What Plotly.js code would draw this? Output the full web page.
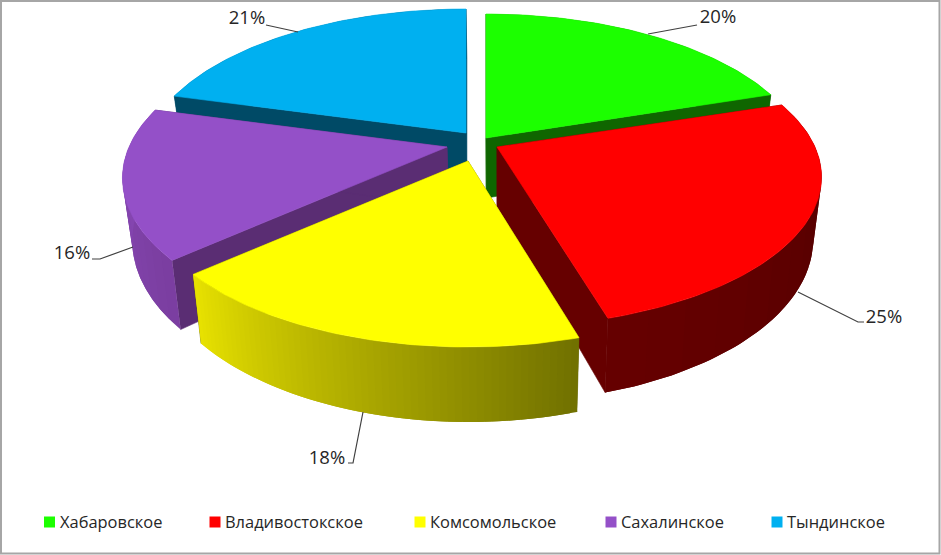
<!DOCTYPE html>
<html>
<head>
<meta charset="utf-8">
<script src="https://cdn.plot.ly/plotly-3.0.1.min.js"></script>
<style>html,body{margin:0;padding:0;background:#fff}#c{width:941px;height:555px}</style>
</head>
<body>
<div id="c"></div>
<script>
// ---- data ----
const categories = ['Хабаровское','Владивостокское','Комсомольское','Сахалинское','Тындинское'];
const values = [20, 25.45, 18.05, 15.7, 20.8];

// ---- styles / layout ----
const topColors = ['#1cff00','#ff0000','#ffff00','#9450c8','#00b0f0'];
const wallColors = ['#0f6600','#660000','#666600','#5a2d73','#004a66'];
const outerFrom = [[15,102,0],[102,0,0],[232,226,0],[138,74,186],[0,74,102]];
const outerTo   = [[15,102,0],[80,0,0],[112,112,0],[122,62,160],[0,74,102]];
const outerStrips = [1,14,60,16,1];
const apexX = [486,497,468,447,466];
const apexY = [138,147,161,147,133];
const ryScale = [1,0.97,1,1,1];
const drawOrder = [4,0,3,1,2];
const RX = 318, RY = 148.8, P = 0.2, DEPTH = 60, VANISH_X = 500, SHRINK = 0.026;
const labelX = [718,884,327,72,247];
const labelY = [18,318,459,254,19];
const leadX = [[648,695,697],[798,858,864],[363,353,348],[133,100,92],[298,268,266]];
const leadY = [[34,25,25],[292,322,322],[412,463,463],[247,259,259],[32,25,25]];
const legendMarkX = [49.5,215,420,611,777];
const legendTextX = [60,225,430,621,787];
const LEGEND_Y = 522;
const LEGEND_TEXT_Y = 523.5;

// ---- projection ----
function project(i, deg, r, bottom) {
  const a = deg * Math.PI / 180;
  const u = Math.sin(a) * r, v = -Math.cos(a) * r;
  const w = 1 / (1 - P * v);
  let px = apexX[i] + RX * u * w;
  const py = apexY[i] + (RY * ryScale[i] * v + (bottom ? DEPTH : 0)) * w;
  if (bottom) px += (VANISH_X - px) * SHRINK;
  return [px, py];
}
function poly(pts, color, lineWidth) {
  return {
    type:'scatter', mode:'lines', x:pts.map(p=>p[0]).concat(pts[0][0]), y:pts.map(p=>p[1]).concat(pts[0][1]),
    fill:'toself', fillcolor:color, line:{color:color, width:lineWidth}, hoverinfo:'skip', showlegend:false
  };
}
function arc(i, a0, a1, bottom) {
  const n = Math.max(2, Math.ceil(Math.abs(a1 - a0)));
  const out = [];
  for (let k = 0; k <= n; k++) out.push(project(i, a0 + (a1 - a0) * k / n, 1, bottom));
  return out;
}

const total = values.reduce((s, v) => s + v, 0);
const starts = [];
values.reduce((acc, v, i) => { starts[i] = acc; return acc + v / total * 360; }, 0);

const traces = [];
drawOrder.forEach(i => {
  const a0 = starts[i], a1 = a0 + values[i] / total * 360;
  const aT = project(i, 0, 0, false), aB = project(i, 0, 0, true);
  // radial walls
  [a0, a1].forEach(a => {
    traces.push(poly([aT, project(i, a, 1, false), project(i, a, 1, true), aB], wallColors[i], 0.6));
  });
  // outer wall: overlapping strips painted one over the next, so no seams show
  const strips = outerStrips[i];
  for (let s = 0; s < strips; s++) {
    const b0 = a0 + (a1 - a0) * s / strips;
    const b1 = Math.min(a1, a0 + (a1 - a0) * (s + 2) / strips);
    const t = strips === 1 ? 0 : 1 - (s + 0.5) / strips;
    const c = outerFrom[i].map((f, k) => Math.round(f + (outerTo[i][k] - f) * t));
    traces.push(poly(arc(i, b0, b1, false).concat(arc(i, b1, b0, true)), `rgb(${c.join(',')})`, 0));
  }
  // top face
  traces.push(poly([aT].concat(arc(i, a0, a1, false)), topColors[i], 0.6));
});

// leader lines and percentage labels
values.forEach((v, i) => {
  traces.push({type:'scatter', mode:'lines', x:leadX[i], y:leadY[i], line:{color:'#404040', width:1.2}, hoverinfo:'skip', showlegend:false});
});
traces.push({type:'scatter', mode:'text', x:labelX, y:labelY, text:values.map(v => Math.round(v / total * 100) + '%'),
  textposition:'middle center', textfont:{family:'"Open Sans", sans-serif', size:18.5, color:'#262626'}, hoverinfo:'skip', showlegend:false});

// legend row
traces.push({type:'scatter', mode:'markers', x:legendMarkX, y:categories.map(() => LEGEND_Y),
  marker:{symbol:'square', size:11, color:topColors}, hoverinfo:'skip', showlegend:false});
traces.push({type:'scatter', mode:'text', x:legendTextX, y:categories.map(() => LEGEND_TEXT_Y), text:categories,
  textposition:'middle right', textfont:{family:'"Open Sans", sans-serif', size:16.45, color:'#262626'}, hoverinfo:'skip', showlegend:false});

const layout = {
  width:941, height:555, margin:{l:0,r:0,t:0,b:0}, showlegend:false,
  paper_bgcolor:'#fff', plot_bgcolor:'#fff',
  xaxis:{range:[0,941], visible:false, fixedrange:true},
  yaxis:{range:[555,0], visible:false, fixedrange:true},
  shapes:[{type:'rect', xref:'x', yref:'y', x0:1, y0:1, x1:939.5, y1:553.5, line:{color:'#a6a6a6', width:2}, fillcolor:'rgba(0,0,0,0)', layer:'above'}]
};
Plotly.newPlot('c', traces, layout, {displayModeBar:false, staticPlot:true});
</script>
</body>
</html>
